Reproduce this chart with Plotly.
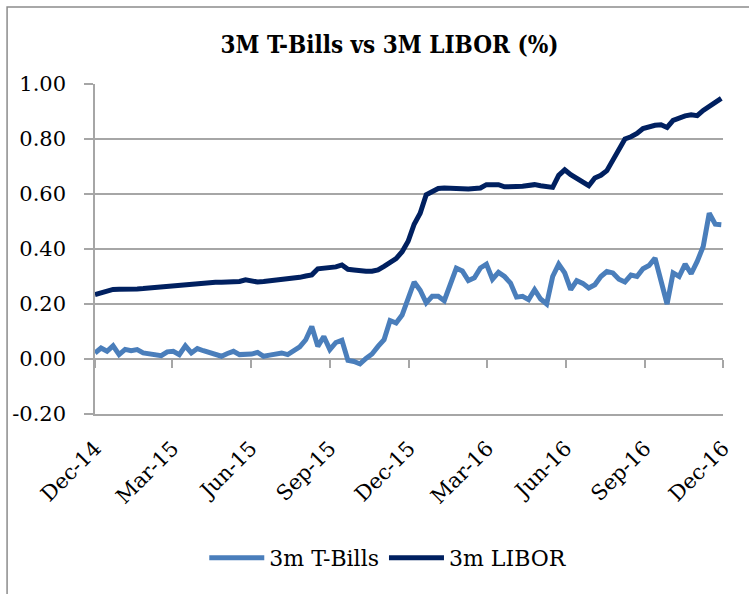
import pandas as pd
import plotly.graph_objects as go

# weekly observations, Dec 31 2014 .. Dec 28 2016
dates = pd.date_range("2014-12-31", periods=105, freq="7D")

tbills = [
    0.022, 0.040, 0.028, 0.048, 0.016, 0.035, 0.030, 0.034, 0.022, 0.018,
    0.016, 0.012, 0.026, 0.028, 0.016, 0.048, 0.022, 0.038, 0.030, 0.022,
    0.016, 0.010, 0.020, 0.028, 0.016, 0.016, 0.018, 0.024, 0.010, 0.014,
    0.016, 0.022, 0.016, 0.030, 0.044, 0.070, 0.118, 0.046, 0.082, 0.034,
    0.060, 0.068, -0.005, -0.009, -0.018, 0.002, 0.018, 0.046, 0.070, 0.140,
    0.131, 0.160, 0.216, 0.280, 0.250, 0.204, 0.228, 0.228, 0.212, 0.275,
    0.330, 0.320, 0.285, 0.295, 0.331, 0.345, 0.290, 0.315, 0.300, 0.276,
    0.225, 0.228, 0.216, 0.252, 0.218, 0.200, 0.300, 0.345, 0.313, 0.252,
    0.285, 0.275, 0.258, 0.270, 0.300, 0.318, 0.313, 0.290, 0.280, 0.305,
    0.300, 0.328, 0.340, 0.367, 0.282, 0.200, 0.313, 0.300, 0.345, 0.310,
    0.355, 0.409, 0.530, 0.490, 0.488,
]

libor = [
    0.234, 0.240, 0.248, 0.253, 0.254, 0.253, 0.255, 0.255, 0.256, 0.258,
    0.260, 0.262, 0.263, 0.266, 0.268, 0.272, 0.274, 0.276, 0.277, 0.278,
    0.279, 0.279, 0.280, 0.282, 0.282, 0.288, 0.284, 0.280, 0.282, 0.284,
    0.286, 0.288, 0.291, 0.294, 0.297, 0.302, 0.306, 0.328, 0.330, 0.332,
    0.335, 0.342, 0.326, 0.324, 0.320, 0.319, 0.319, 0.324, 0.337, 0.350,
    0.365, 0.390, 0.428, 0.490, 0.530, 0.597, 0.610, 0.620, 0.622, 0.620,
    0.618, 0.616, 0.618, 0.620, 0.622, 0.634, 0.634, 0.634, 0.626, 0.625,
    0.627, 0.628, 0.630, 0.634, 0.630, 0.626, 0.624, 0.668, 0.688, 0.670,
    0.658, 0.646, 0.630, 0.658, 0.668, 0.685, 0.725, 0.767, 0.800, 0.808,
    0.820, 0.838, 0.845, 0.850, 0.852, 0.842, 0.868, 0.878, 0.884, 0.888,
    0.885, 0.904, 0.918, 0.931, 0.948,
]

tick_dates = ["2014-12-31", "2015-03-31", "2015-06-30", "2015-09-30", "2015-12-31",
              "2016-03-31", "2016-06-30", "2016-09-30", "2016-12-30"]
tick_labels = ["Dec-14", "Mar-15", "Jun-15", "Sep-15", "Dec-15",
               "Mar-16", "Jun-16", "Sep-16", "Dec-16"]
y_ticks = [-0.2, 0.0, 0.2, 0.4, 0.6, 0.8, 1.0]
y_labels = ["-0.20", "0.00", "0.20", "0.40", "0.60", "0.80", "1.00"]

serif = "DejaVu Serif"
grid = "#a6a6a6"
xrange = ["2014-12-31", "2016-12-30"]

fig = go.Figure()
fig.add_trace(go.Scatter(x=dates, y=tbills, name="3m T-Bills", mode="lines",
                         line=dict(color="#4a7ebb", width=5), xaxis="x2"))
fig.add_trace(go.Scatter(x=dates, y=libor, name="3m LIBOR", mode="lines",
                         line=dict(color="#002060", width=5)))

fig.update_layout(
    width=749, height=594,
    margin=dict(l=95, r=26, t=84, b=180),
    paper_bgcolor="white", plot_bgcolor="white",
    font=dict(family=serif, color="black", size=21),
    title=dict(text="<b>3M T-Bills vs 3M LIBOR (%)</b>", x=0.52, xanchor="center",
               y=0.925, yanchor="middle",
               font=dict(size=24, family="DejaVu Serif Condensed")),
    xaxis=dict(range=xrange, tickvals=tick_dates, ticktext=tick_labels,
               tickangle=-45, showgrid=False, showline=True, linecolor=grid,
               linewidth=1.5, ticks="", tickfont=dict(size=21), zeroline=False,
               ticklabelstandoff=12, automargin=False),
    xaxis2=dict(range=xrange, overlaying="x", anchor="free", position=1 / 6,
                tickvals=tick_dates, showticklabels=False, ticks="outside",
                ticklen=8, tickwidth=1.5, tickcolor=grid, showgrid=False,
                showline=False, zeroline=False, automargin=False),
    yaxis=dict(range=[-0.2, 1.0], tickvals=y_ticks, ticktext=y_labels,
               showgrid=True, gridcolor=grid, gridwidth=1.5, zeroline=False,
               showline=True, linecolor=grid, linewidth=1.5,
               ticks="outside", ticklen=9, tickcolor=grid, tickwidth=1.5,
               tickfont=dict(size=21), ticklabelstandoff=14, automargin=False),
    legend=dict(orientation="h", x=0.467, xanchor="center", y=-0.436,
                yanchor="middle", font=dict(size=22), itemwidth=55),
    showlegend=True,
    shapes=[dict(type="rect", xref="paper", yref="paper",
                 x0=-0.140, x1=1.1, y0=-0.7, y1=1.233,
                 line=dict(color="#8c8c8c", width=1.5))],
)

fig.write_html("out.html", config={"displayModeBar": False},
               post_script="document.body.style.margin='0';")
